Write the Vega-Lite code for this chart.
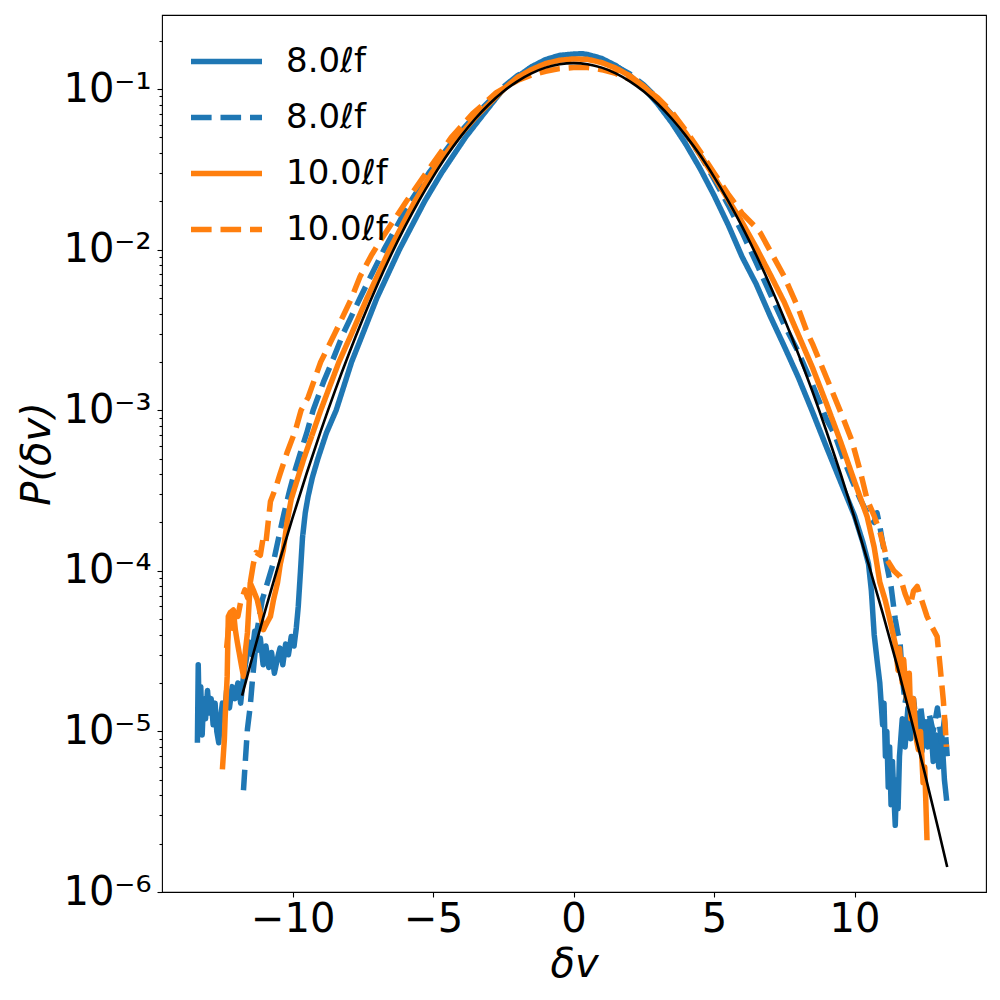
{
"$schema": "https://vega.github.io/schema/vega-lite/v6.json",
"width": 824, "height": 877,
"autosize": {"type": "none"},
"padding": {"left": 162, "top": 15, "right": 14, "bottom": 108},
"background": "white",
"config": {
  "view": {"stroke": "black", "strokeWidth": 1.1},
  "font": "DejaVu Sans",
  "axis": {"domain": false, "grid": false, "tickColor": "black", "tickWidth": 1.1, "labelColor": "black", "titleColor": "black", "labelFont": "DejaVu Sans", "titleFont": "DejaVu Sans", "titleFontWeight": "normal"},
  "legend": {"labelFont": "DejaVu Sans", "labelColor": "black"}
},
"datasets": {
"curves": [
{"s":"a","x":-13.39,"p":8.5e-6},{"s":"a","x":-13.36,"p":2.6e-5},{"s":"a","x":-13.32,"p":1.1e-5},{"s":"a","x":-13.27,"p":1.9e-5},{"s":"a","x":-13.22,"p":9.5e-6},{"s":"a","x":-13.17,"p":1.6e-5},{"s":"a","x":-13.1,"p":1.2e-5},{"s":"a","x":-13.03,"p":1.8e-5},{"s":"a","x":-12.97,"p":1.3e-5},{"s":"a","x":-12.9,"p":1.6e-5},{"s":"a","x":-12.83,"p":1.1e-5},{"s":"a","x":-12.76,"p":1.5e-5},{"s":"a","x":-12.7,"p":1.0e-5},{"s":"a","x":-12.63,"p":8.5e-6},{"s":"a","x":-12.57,"p":1.2e-5},{"s":"a","x":-12.5,"p":1.5e-5},{"s":"a","x":-12.42,"p":1.3e-5},{"s":"a","x":-12.35,"p":1.8e-5},{"s":"a","x":-12.25,"p":1.4e-5},{"s":"a","x":-12.15,"p":1.9e-5},{"s":"a","x":-12.05,"p":1.6e-5},{"s":"a","x":-11.95,"p":2.0e-5},{"s":"a","x":-11.85,"p":1.5e-5},{"s":"a","x":-11.75,"p":2.2e-5},{"s":"a","x":-11.65,"p":2.8e-5},{"s":"a","x":-11.55,"p":3.6e-5},{"s":"a","x":-11.45,"p":3.0e-5},{"s":"a","x":-11.35,"p":4.2e-5},{"s":"a","x":-11.25,"p":3.2e-5},{"s":"a","x":-11.15,"p":3.8e-5},{"s":"a","x":-11.05,"p":2.6e-5},{"s":"a","x":-10.95,"p":3.4e-5},{"s":"a","x":-10.85,"p":2.5e-5},{"s":"a","x":-10.75,"p":3.1e-5},{"s":"a","x":-10.65,"p":2.3e-5},{"s":"a","x":-10.55,"p":2.8e-5},{"s":"a","x":-10.45,"p":3.3e-5},{"s":"a","x":-10.35,"p":2.6e-5},{"s":"a","x":-10.25,"p":3.5e-5},{"s":"a","x":-10.15,"p":3.0e-5},{"s":"a","x":-10.05,"p":3.9e-5},{"s":"a","x":-9.95,"p":3.4e-5},{"s":"a","x":-9.87,"p":4.4e-5},{"s":"a","x":-9.8,"p":6e-5},{"s":"a","x":-9.72,"p":1.0e-4},{"s":"a","x":-9.65,"p":1.6e-4},{"s":"a","x":-9.55,"p":2.3e-4},{"s":"a","x":-9.45,"p":2.9e-4},{"s":"a","x":-9.3,"p":3.8e-4},{"s":"a","x":-9.1,"p":5.0e-4},{"s":"a","x":-8.8,"p":7.2e-4},{"s":"a","x":-8.45,"p":1.0e-3},{"s":"a","x":-7.9,"p":2.0e-3},{"s":"a","x":-7.5,"p":3.0e-3},{"s":"a","x":-7.0,"p":5.0e-3},{"s":"a","x":-6.2,"p":0.01},{"s":"a","x":-5.3,"p":0.02},{"s":"a","x":-4.7,"p":0.03},{"s":"a","x":-3.85,"p":0.05},{"s":"a","x":-3.2,"p":0.07},{"s":"a","x":-2.5,"p":0.1},{"s":"a","x":-2.0,"p":0.1192},{"s":"a","x":-1.5,"p":0.1375},{"s":"a","x":-1.0,"p":0.1524},{"s":"a","x":-0.5,"p":0.162},{"s":"a","x":0,"p":0.165},{"s":"a","x":0.3,"p":0.166},{"s":"a","x":0.5,"p":0.164},{"s":"a","x":1.0,"p":0.155},{"s":"a","x":1.5,"p":0.14},{"s":"a","x":2.0,"p":0.1215},{"s":"a","x":2.5,"p":0.101},{"s":"a","x":3.0,"p":0.0805},{"s":"a","x":3.5,"p":0.0615},{"s":"a","x":4.0,"p":0.0452},{"s":"a","x":4.5,"p":0.032},{"s":"a","x":5.0,"p":0.0218},{"s":"a","x":5.5,"p":0.0143},{"s":"a","x":6.0,"p":9.0e-3},{"s":"a","x":6.5,"p":6.1e-3},{"s":"a","x":7.0,"p":3.85e-3},{"s":"a","x":7.5,"p":2.5e-3},{"s":"a","x":8.0,"p":1.6e-3},{"s":"a","x":8.5,"p":9.8e-4},{"s":"a","x":9.0,"p":5.9e-4},{"s":"a","x":9.5,"p":3.6e-4},{"s":"a","x":10.0,"p":2.2e-4},{"s":"a","x":10.3,"p":1.5e-4},{"s":"a","x":10.5,"p":1.1e-4},{"s":"a","x":10.6,"p":7.5e-5},{"s":"a","x":10.7,"p":4.0e-5},{"s":"a","x":10.8,"p":2.8e-5},{"s":"a","x":10.9,"p":2.0e-5},{"s":"a","x":11.0,"p":1.1e-5},{"s":"a","x":11.05,"p":1.5e-5},{"s":"a","x":11.1,"p":7e-6},{"s":"a","x":11.15,"p":1.0e-5},{"s":"a","x":11.2,"p":4.5e-6},{"s":"a","x":11.25,"p":8e-6},{"s":"a","x":11.3,"p":3.5e-6},{"s":"a","x":11.35,"p":6.5e-6},{"s":"a","x":11.4,"p":4e-6},{"s":"a","x":11.45,"p":2.6e-6},{"s":"a","x":11.5,"p":5e-6},{"s":"a","x":11.55,"p":3.3e-6},{"s":"a","x":11.6,"p":7e-6},{"s":"a","x":11.7,"p":1.2e-5},{"s":"a","x":11.8,"p":8e-6},{"s":"a","x":11.9,"p":1.4e-5},{"s":"a","x":12.0,"p":9e-6},{"s":"a","x":12.1,"p":1.5e-5},{"s":"a","x":12.2,"p":1.0e-5},{"s":"a","x":12.3,"p":1.3e-5},{"s":"a","x":12.4,"p":7.5e-6},{"s":"a","x":12.5,"p":1.1e-5},{"s":"a","x":12.6,"p":8e-6},{"s":"a","x":12.7,"p":1.2e-5},{"s":"a","x":12.8,"p":6.5e-6},{"s":"a","x":12.9,"p":9.5e-6},{"s":"a","x":13.0,"p":6e-6},{"s":"a","x":13.1,"p":1.0e-5},{"s":"a","x":13.2,"p":5e-6},{"s":"a","x":13.28,"p":3.7e-6},
{"s":"b","x":-11.75,"p":4.3e-6},{"s":"b","x":-11.68,"p":6.7e-6},{"s":"b","x":-11.61,"p":1.03e-5},{"s":"b","x":-11.51,"p":1.43e-5},{"s":"b","x":-11.43,"p":2.1e-5},{"s":"b","x":-11.33,"p":3.2e-5},{"s":"b","x":-11.26,"p":4.3e-5},{"s":"b","x":-11.18,"p":5.2e-5},{"s":"b","x":-11.08,"p":6.6e-5},{"s":"b","x":-10.9,"p":8.4e-5},{"s":"b","x":-10.7,"p":1.1e-4},{"s":"b","x":-10.5,"p":1.6e-4},{"s":"b","x":-10.3,"p":2.3e-4},{"s":"b","x":-10.1,"p":3.2e-4},{"s":"b","x":-9.9,"p":4.3e-4},{"s":"b","x":-9.7,"p":5.6e-4},{"s":"b","x":-9.5,"p":7.2e-4},{"s":"b","x":-9.27,"p":1.0e-3},{"s":"b","x":-8.9,"p":1.5e-3},{"s":"b","x":-8.6,"p":2.0e-3},{"s":"b","x":-8.2,"p":3.0e-3},{"s":"b","x":-7.6,"p":5.0e-3},{"s":"b","x":-6.75,"p":0.01},{"s":"b","x":-5.8,"p":0.02},{"s":"b","x":-5.15,"p":0.03},{"s":"b","x":-4.2,"p":0.05},{"s":"b","x":-3.45,"p":0.07},{"s":"b","x":-2.5,"p":0.103},{"s":"b","x":-2.0,"p":0.121},{"s":"b","x":-1.5,"p":0.136},{"s":"b","x":-1.0,"p":0.148},{"s":"b","x":-0.5,"p":0.156},{"s":"b","x":0,"p":0.158},{"s":"b","x":0.5,"p":0.157},{"s":"b","x":1.0,"p":0.15},{"s":"b","x":1.5,"p":0.139},{"s":"b","x":2.0,"p":0.124},{"s":"b","x":2.5,"p":0.106},{"s":"b","x":3.0,"p":0.087},{"s":"b","x":3.5,"p":0.069},{"s":"b","x":4.0,"p":0.052},{"s":"b","x":4.5,"p":0.039},{"s":"b","x":5.0,"p":0.0275},{"s":"b","x":5.5,"p":0.019},{"s":"b","x":6.0,"p":0.0128},{"s":"b","x":6.5,"p":8.3e-3},{"s":"b","x":7.0,"p":5.3e-3},{"s":"b","x":7.5,"p":3.4e-3},{"s":"b","x":8.0,"p":2.3e-3},{"s":"b","x":8.5,"p":1.45e-3},{"s":"b","x":9.0,"p":8.8e-4},{"s":"b","x":9.3,"p":7.0e-4},{"s":"b","x":9.6,"p":5.0e-4},{"s":"b","x":9.9,"p":3.7e-4},{"s":"b","x":10.2,"p":2.8e-4},{"s":"b","x":10.5,"p":2.2e-4},{"s":"b","x":10.7,"p":2.0e-4},{"s":"b","x":10.8,"p":2.3e-4},{"s":"b","x":10.9,"p":1.9e-4},{"s":"b","x":11.0,"p":1.5e-4},{"s":"b","x":11.16,"p":1.06e-4},{"s":"b","x":11.3,"p":8e-5},{"s":"b","x":11.45,"p":5e-5},{"s":"b","x":11.55,"p":4e-5},{"s":"b","x":11.62,"p":3.6e-5},{"s":"b","x":11.7,"p":2.2e-5},{"s":"b","x":11.8,"p":1.5e-5},{"s":"b","x":11.9,"p":1.9e-5},{"s":"b","x":12.0,"p":1.2e-5},{"s":"b","x":12.1,"p":1.6e-5},{"s":"b","x":12.2,"p":1.1e-5},{"s":"b","x":12.35,"p":1.45e-5},{"s":"b","x":12.5,"p":9e-6},{"s":"b","x":12.65,"p":1.3e-5},{"s":"b","x":12.8,"p":1.0e-5},{"s":"b","x":12.95,"p":1.4e-5},{"s":"b","x":13.1,"p":8.5e-6},{"s":"b","x":13.2,"p":1.2e-5},{"s":"b","x":13.3,"p":7e-6},
{"s":"c","x":-12.5,"p":5.8e-6},{"s":"c","x":-12.43,"p":8.9e-6},{"s":"c","x":-12.4,"p":1.24e-5},{"s":"c","x":-12.33,"p":2.2e-5},{"s":"c","x":-12.29,"p":5.2e-5},{"s":"c","x":-12.22,"p":5.5e-5},{"s":"c","x":-12.11,"p":5.7e-5},{"s":"c","x":-12.04,"p":4.3e-5},{"s":"c","x":-11.97,"p":3.6e-5},{"s":"c","x":-11.86,"p":2.8e-5},{"s":"c","x":-11.75,"p":2.2e-5},{"s":"c","x":-11.68,"p":3.2e-5},{"s":"c","x":-11.61,"p":4.1e-5},{"s":"c","x":-11.51,"p":8.4e-5},{"s":"c","x":-11.4,"p":7.6e-5},{"s":"c","x":-11.26,"p":6.6e-5},{"s":"c","x":-11.15,"p":5.4e-5},{"s":"c","x":-11.04,"p":4.3e-5},{"s":"c","x":-10.9,"p":4.8e-5},{"s":"c","x":-10.79,"p":5.2e-5},{"s":"c","x":-10.68,"p":6.6e-5},{"s":"c","x":-10.54,"p":8.4e-5},{"s":"c","x":-10.44,"p":1.1e-4},{"s":"c","x":-10.33,"p":1.35e-4},{"s":"c","x":-10.2,"p":2.0e-4},{"s":"c","x":-10.05,"p":2.8e-4},{"s":"c","x":-9.6,"p":5.0e-4},{"s":"c","x":-9.0,"p":1.0e-3},{"s":"c","x":-8.35,"p":2.0e-3},{"s":"c","x":-7.9,"p":3.0e-3},{"s":"c","x":-7.35,"p":5.0e-3},{"s":"c","x":-6.55,"p":0.01},{"s":"c","x":-5.65,"p":0.02},{"s":"c","x":-5.05,"p":0.03},{"s":"c","x":-4.12,"p":0.05},{"s":"c","x":-3.38,"p":0.07},{"s":"c","x":-2.4,"p":0.103},{"s":"c","x":-2.0,"p":0.118},{"s":"c","x":-1.5,"p":0.132},{"s":"c","x":-1.0,"p":0.144},{"s":"c","x":-0.5,"p":0.151},{"s":"c","x":0,"p":0.154},{"s":"c","x":0.5,"p":0.153},{"s":"c","x":1.0,"p":0.146},{"s":"c","x":1.5,"p":0.135},{"s":"c","x":2.0,"p":0.121},{"s":"c","x":2.5,"p":0.104},{"s":"c","x":3.0,"p":0.086},{"s":"c","x":3.5,"p":0.069},{"s":"c","x":4.0,"p":0.053},{"s":"c","x":4.5,"p":0.039},{"s":"c","x":5.0,"p":0.0285},{"s":"c","x":5.5,"p":0.0205},{"s":"c","x":6.0,"p":0.0148},{"s":"c","x":6.5,"p":0.0103},{"s":"c","x":7.0,"p":7.0e-3},{"s":"c","x":7.5,"p":4.7e-3},{"s":"c","x":8.0,"p":2.95e-3},{"s":"c","x":8.5,"p":1.85e-3},{"s":"c","x":9.0,"p":1.1e-3},{"s":"c","x":9.5,"p":6.4e-4},{"s":"c","x":10.0,"p":3.6e-4},{"s":"c","x":10.45,"p":2.17e-4},{"s":"c","x":10.7,"p":1.4e-4},{"s":"c","x":10.9,"p":8.5e-5},{"s":"c","x":11.1,"p":6.5e-5},{"s":"c","x":11.3,"p":4.6e-5},{"s":"c","x":11.45,"p":3.5e-5},{"s":"c","x":11.55,"p":2.4e-5},{"s":"c","x":11.6,"p":3.3e-5},{"s":"c","x":11.7,"p":2.0e-5},{"s":"c","x":11.75,"p":2.8e-5},{"s":"c","x":11.85,"p":1.6e-5},{"s":"c","x":11.95,"p":2.3e-5},{"s":"c","x":12.0,"p":1.2e-5},{"s":"c","x":12.1,"p":1.6e-5},{"s":"c","x":12.2,"p":9e-6},{"s":"c","x":12.27,"p":7.7e-6},{"s":"c","x":12.35,"p":1.0e-5},{"s":"c","x":12.44,"p":4.8e-6},{"s":"c","x":12.5,"p":6e-6},{"s":"c","x":12.58,"p":2.1e-6},
{"s":"d","x":-12.35,"p":3.3e-5},{"s":"d","x":-12.25,"p":5.0e-5},{"s":"d","x":-12.15,"p":4.4e-5},{"s":"d","x":-12.05,"p":5.8e-5},{"s":"d","x":-11.95,"p":5.2e-5},{"s":"d","x":-11.85,"p":6.4e-5},{"s":"d","x":-11.7,"p":7.6e-5},{"s":"d","x":-11.6,"p":6.8e-5},{"s":"d","x":-11.5,"p":8.6e-5},{"s":"d","x":-11.4,"p":1.1e-4},{"s":"d","x":-11.3,"p":1.3e-4},{"s":"d","x":-11.15,"p":1.25e-4},{"s":"d","x":-11.05,"p":1.6e-4},{"s":"d","x":-10.95,"p":1.5e-4},{"s":"d","x":-10.79,"p":2.7e-4},{"s":"d","x":-10.6,"p":3.3e-4},{"s":"d","x":-10.45,"p":4.0e-4},{"s":"d","x":-10.3,"p":4.8e-4},{"s":"d","x":-10.19,"p":5.5e-4},{"s":"d","x":-9.9,"p":7.5e-4},{"s":"d","x":-9.7,"p":1.0e-3},{"s":"d","x":-9.45,"p":1.2e-3},{"s":"d","x":-9.0,"p":2.0e-3},{"s":"d","x":-8.5,"p":3.0e-3},{"s":"d","x":-7.9,"p":5.0e-3},{"s":"d","x":-7.6,"p":6.8e-3},{"s":"d","x":-7.2,"p":9.2e-3},{"s":"d","x":-6.9,"p":0.0112},{"s":"d","x":-6.4,"p":0.0152},{"s":"d","x":-5.95,"p":0.02},{"s":"d","x":-5.25,"p":0.03},{"s":"d","x":-4.35,"p":0.05},{"s":"d","x":-3.6,"p":0.07},{"s":"d","x":-2.75,"p":0.095},{"s":"d","x":-2.0,"p":0.113},{"s":"d","x":-1.5,"p":0.122},{"s":"d","x":-1.0,"p":0.129},{"s":"d","x":-0.5,"p":0.134},{"s":"d","x":0,"p":0.136},{"s":"d","x":0.5,"p":0.136},{"s":"d","x":1.0,"p":0.132},{"s":"d","x":1.5,"p":0.125},{"s":"d","x":2.0,"p":0.115},{"s":"d","x":2.5,"p":0.103},{"s":"d","x":3.0,"p":0.088},{"s":"d","x":3.5,"p":0.072},{"s":"d","x":4.0,"p":0.055},{"s":"d","x":4.5,"p":0.041},{"s":"d","x":5.0,"p":0.03},{"s":"d","x":5.5,"p":0.0222},{"s":"d","x":6.0,"p":0.0168},{"s":"d","x":6.5,"p":0.0137},{"s":"d","x":6.65,"p":0.0127},{"s":"d","x":7.0,"p":0.0098},{"s":"d","x":7.5,"p":6.8e-3},{"s":"d","x":8.0,"p":4.3e-3},{"s":"d","x":8.32,"p":3.03e-3},{"s":"d","x":8.5,"p":2.6e-3},{"s":"d","x":9.0,"p":1.6e-3},{"s":"d","x":9.5,"p":9.8e-4},{"s":"d","x":9.9,"p":6.5e-4},{"s":"d","x":10.2,"p":4.2e-4},{"s":"d","x":10.45,"p":2.77e-4},{"s":"d","x":10.7,"p":2.2e-4},{"s":"d","x":10.91,"p":1.73e-4},{"s":"d","x":11.05,"p":1.4e-4},{"s":"d","x":11.16,"p":1.17e-4},{"s":"d","x":11.4,"p":1.0e-4},{"s":"d","x":11.62,"p":9.2e-5},{"s":"d","x":11.8,"p":7.2e-5},{"s":"d","x":11.98,"p":6.0e-5},{"s":"d","x":12.1,"p":7.5e-5},{"s":"d","x":12.23,"p":8.0e-5},{"s":"d","x":12.4,"p":6.5e-5},{"s":"d","x":12.58,"p":5.2e-5},{"s":"d","x":12.75,"p":4.5e-5},{"s":"d","x":12.94,"p":3.9e-5},{"s":"d","x":13.05,"p":2.5e-5},{"s":"d","x":13.16,"p":1.57e-5},{"s":"d","x":13.23,"p":1.07e-5},{"s":"d","x":13.27,"p":8e-6}
],
"gauss": [
{"x":-11.8,"p":1.67e-5},{"x":-11.5,"p":2.63e-5},{"x":-11,"p":5.47e-5},{"x":-10.5,"p":1.10e-4},{"x":-10,"p":2.14e-4},{"x":-9.5,"p":4.05e-4},{"x":-9,"p":7.40e-4},{"x":-8.5,"p":1.31e-3},{"x":-8,"p":2.24e-3},{"x":-7.5,"p":3.71e-3},{"x":-7,"p":5.96e-3},{"x":-6.5,"p":9.25e-3},{"x":-6,"p":0.01389},{"x":-5.5,"p":0.0202},{"x":-5,"p":0.0284},{"x":-4.5,"p":0.0388},{"x":-4,"p":0.0511},{"x":-3.5,"p":0.0653},{"x":-3,"p":0.0807},{"x":-2.5,"p":0.0965},{"x":-2,"p":0.1117},{"x":-1.5,"p":0.1252},{"x":-1,"p":0.1359},{"x":-0.5,"p":0.1427},{"x":0,"p":0.145},{"x":0.5,"p":0.1427},{"x":1,"p":0.1359},{"x":1.5,"p":0.1252},{"x":2,"p":0.1117},{"x":2.5,"p":0.0965},{"x":3,"p":0.0807},{"x":3.5,"p":0.0653},{"x":4,"p":0.0511},{"x":4.5,"p":0.0388},{"x":5,"p":0.0284},{"x":5.5,"p":0.0202},{"x":6,"p":0.01389},{"x":6.5,"p":9.25e-3},{"x":7,"p":5.96e-3},{"x":7.5,"p":3.71e-3},{"x":8,"p":2.24e-3},{"x":8.5,"p":1.31e-3},{"x":9,"p":7.40e-4},{"x":9.5,"p":4.05e-4},{"x":10,"p":2.14e-4},{"x":10.5,"p":1.10e-4},{"x":11,"p":5.47e-5},{"x":11.5,"p":2.63e-5},{"x":12,"p":1.22e-5},{"x":12.5,"p":5.5e-6},{"x":13,"p":2.39e-6},{"x":13.3,"p":1.43e-6}
]
},
"layer": [
{
  "data": {"name": "curves"},
  "mark": {"type": "line", "strokeWidth": 5.5, "strokeJoin": "round", "strokeCap": "butt", "clip": true},
  "encoding": {
    "x": {"field": "x", "type": "quantitative",
      "scale": {"domain": [-14.65, 14.68], "nice": false, "zero": false},
      "axis": {"values": [-10, -5, 0, 5, 10], "format": "d", "tickSize": 5, "labelFontSize": 40, "labelPadding": 2,
        "title": "δv", "titleFontSize": 40, "titleFontStyle": "italic", "titleY": 72, "titleBaseline": "middle"}},
    "y": {"field": "p", "type": "quantitative",
      "scale": {"type": "log", "domain": [1e-6, 0.289], "nice": false},
      "axis": {"values": [1e-6,2e-6,3e-6,4e-6,5e-6,6e-6,7e-6,8e-6,9e-6,1e-5,2e-5,3e-5,4e-5,5e-5,6e-5,7e-5,8e-5,9e-5,1e-4,2e-4,3e-4,4e-4,5e-4,6e-4,7e-4,8e-4,9e-4,1e-3,2e-3,3e-3,4e-3,5e-3,6e-3,7e-3,8e-3,9e-3,1e-2,2e-2,3e-2,4e-2,5e-2,6e-2,7e-2,8e-2,9e-2,0.1,0.2],
        "labelOverlap": false, "labelFontSize": 40, "labelPadding": 6,
        "tickSize": {"condition": {"test": "abs(log(datum.value)/LN10 - round(log(datum.value)/LN10)) < 0.001", "value": 5}, "value": 3},
        "labelExpr": "abs(log(datum.value)/LN10 - round(log(datum.value)/LN10)) < 0.001 ? '10⁻' + ['⁰','¹','²','³','⁴','⁵','⁶'][-round(log(datum.value)/LN10)] : ''",
        "title": "P(δv)", "titleFontSize": 40, "titleFontStyle": "italic", "titleX": -125, "titleBaseline": "middle", "titleAngle": -90}},
    "color": {"field": "s", "type": "nominal",
      "scale": {"domain": ["a", "b", "c", "d"], "range": ["#1f77b4", "#1f77b4", "#ff7f0e", "#ff7f0e"]},
      "legend": {"orient": "none", "legendX": 26, "legendY": 8, "title": null, "symbolType": "stroke", "symbolSize": 5041, "symbolStrokeWidth": 5.5, "labelFontSize": 34, "labelOffset": 21, "rowPadding": -12,
        "labelExpr": "datum.label == 'a' || datum.label == 'b' ? '8.0ℓf' : '10.0ℓf'"}},
    "strokeDash": {"field": "s", "type": "nominal",
      "scale": {"domain": ["a", "b", "c", "d"], "range": [[1, 0], [20.6, 8.9], [1, 0], [20.6, 8.9]]}}
  }
},
{
  "data": {"name": "gauss"},
  "mark": {"type": "line", "color": "black", "strokeWidth": 2.6, "interpolate": "monotone", "clip": true},
  "encoding": {
    "x": {"field": "x", "type": "quantitative"},
    "y": {"field": "p", "type": "quantitative"}
  }
}
]
}
